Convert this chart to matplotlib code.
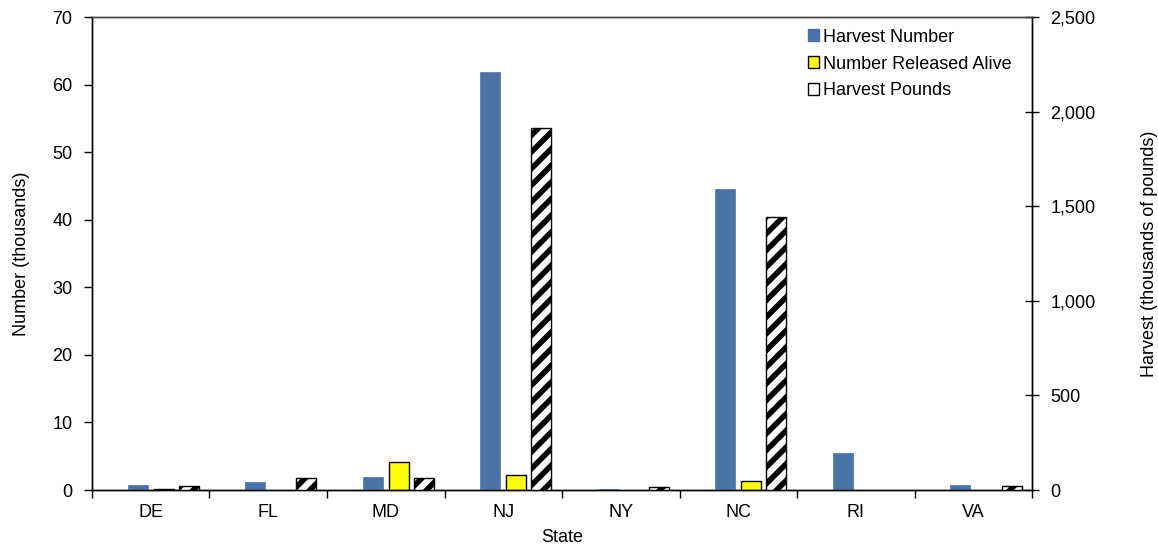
import matplotlib
matplotlib.use("Agg")
import matplotlib.pyplot as plt
import numpy as np
from matplotlib.ticker import FuncFormatter, MultipleLocator, FixedLocator
from matplotlib.patches import Patch

plt.rcParams['font.family'] = ['Liberation Sans', 'DejaVu Sans']
plt.rcParams['hatch.linewidth'] = 4.0

states = ["DE", "FL", "MD", "NJ", "NY", "NC", "RI", "VA"]
harvest_number = [0.7, 1.2, 2.0, 61.8, 0.15, 44.6, 5.5, 0.7]        # thousands
released_alive = [0.2, None, 4.1, 2.2, None, 1.4, None, None]       # thousands
harvest_pounds = [23, 62, 62, 1912, 14, 1441, None, 23]             # thousands of pounds

def arr(v):
    return np.array([np.nan if e is None else e for e in v], dtype=float)

fig = plt.figure(figsize=(11.58, 5.5), dpi=100)
ax = fig.add_axes([0.0794, 0.109, 0.812, 0.860])
ax2 = ax.twinx()

x = np.arange(len(states))
w = 0.17
ax.bar(x - 0.111, arr(harvest_number), width=w, color="#4a74a8", edgecolor="#4a74a8",
       linewidth=0.5, label="Harvest Number", zorder=3)
ax.bar(x + 0.111, arr(released_alive), width=w, color="#ffff00", edgecolor="black",
       linewidth=1.0, label="Number Released Alive", zorder=3)
ax2.bar(x + 0.324, arr(harvest_pounds), width=w, color="white", edgecolor="black",
        hatch="//", linewidth=1.0, label="Harvest Pounds", zorder=3)

ax.set_xlim(-0.5, len(states) - 0.5)
ax.set_ylim(0, 70)
ax2.set_ylim(0, 2500)
ax.yaxis.set_major_locator(MultipleLocator(10))
ax2.yaxis.set_major_locator(MultipleLocator(500))
ax2.yaxis.set_major_formatter(FuncFormatter(lambda v, p: f"{int(v):,}"))

fs = 13
ax.set_xticks(x)
ax.set_xticklabels(states)
ax.tick_params(axis='x', length=0, labelsize=fs, pad=10)
ax.xaxis.set_minor_locator(FixedLocator(np.arange(-0.5, len(states), 1.0)))
ax.tick_params(axis='x', which='minor', length=6, direction='out', width=1)
ax.tick_params(axis='y', labelsize=fs, length=6, direction='out', width=1, pad=8)
ax2.tick_params(axis='y', labelsize=fs, length=10, direction='inout', width=1, pad=8)

for a in (ax, ax2):
    for s in a.spines.values():
        s.set_linewidth(1.0)
    a.spines['top'].set_color('#444444')

ax.set_xlabel("State", fontsize=fs, labelpad=6)
ax.set_ylabel("Number (thousands)", fontsize=fs, labelpad=16)
ax2.set_ylabel("Harvest (thousands of pounds)", fontsize=fs, labelpad=33)

handles = [
    Patch(facecolor="#4a74a8", edgecolor="#4a74a8"),
    Patch(facecolor="#ffff00", edgecolor="black", linewidth=1.0),
    Patch(facecolor="white", edgecolor="black", linewidth=1.0),
]
labels = ["Harvest Number", "Number Released Alive", "Harvest Pounds"]
leg = ax2.legend(handles, labels, loc="upper right", bbox_to_anchor=(0.995, 1.01),
                 frameon=False, fontsize=fs, handlelength=0.6, handleheight=0.6,
                 handletextpad=0.2, labelspacing=0.55)

fig.savefig("out.png", dpi=100)
